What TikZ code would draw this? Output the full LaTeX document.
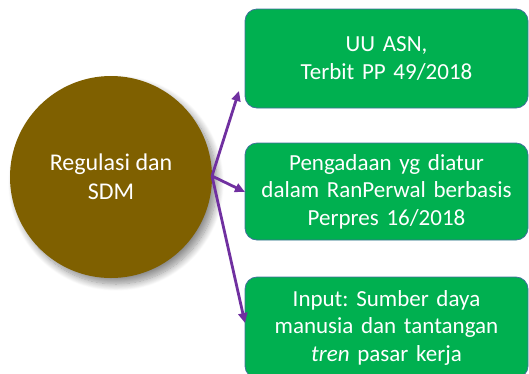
\documentclass[tikz,border=0pt]{standalone}
\usepackage{fontspec}
\setmainfont{Carlito}
\usetikzlibrary{arrows.meta,shadows.blur}
\definecolor{olivec}{RGB}{127,96,0}
\definecolor{boxgreen}{RGB}{0,176,80}
\definecolor{boxedge}{RGB}{65,113,156}
\definecolor{arrowpurple}{RGB}{112,48,160}
\tikzset{
  infobox/.style={draw=boxedge, line width=0.8pt, fill=boxgreen, rounded corners=12pt,
    minimum width=283pt, text width=280pt, align=center, text=white,
    font=\fontsize{23}{27.5}\selectfont, inner sep=0pt},
  hub/.style={circle, fill=olivec, minimum size=202pt, inner sep=0pt, text=white,
    align=center, font=\fontsize{24}{29}\selectfont,
    blur shadow={shadow xshift=5pt, shadow yshift=-6pt, shadow blur steps=12, shadow blur radius=7pt, shadow opacity=45}},
  link/.style={draw=arrowpurple, line width=2.8pt, -{Triangle[length=10pt,width=9pt]}}
}
\frenchspacing
\begin{document}
\begin{tikzpicture}[x=1pt,y=-1pt]
\useasboundingbox (0,0) rectangle (529,373);
\clip (0,0) rectangle (529,373);
\node[hub] (c) at (111,177) {Regulasi dan\\SDM};
\node[infobox, minimum height=99pt] (b1) at (386.5,58.5) {UU ASN,\\Terbit PP 49/2018};
\node[infobox, minimum height=97pt] (b2) at (386.5,191.5) {Pengadaan yg diatur\\dalam RanPerwal berbasis\\Perpres 16/2018};
\node[infobox, minimum height=101pt] (b3) at (386.5,327.5) {Input: Sumber daya\\manusia dan tantangan\\\textit{tren} pasar kerja};
\coordinate (o) at (212,176);
\coordinate (t1) at (239,91);
\coordinate (t2) at (245,192);
\coordinate (t3) at (245,323);
\draw[link] (o) -- (t1);
\draw[link] (o) -- (t2);
\draw[link] (o) -- (t3);
\end{tikzpicture}
\end{document}
